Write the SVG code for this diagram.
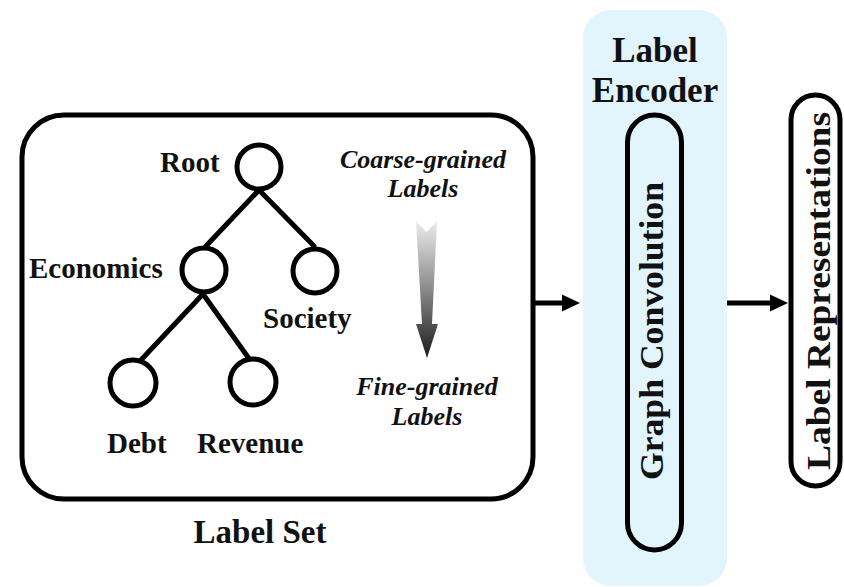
<svg xmlns="http://www.w3.org/2000/svg" width="844" height="587" viewBox="0 0 844 587">
<defs>
<linearGradient id="gArrow" x1="0" y1="0" x2="0" y2="1">
<stop offset="0" stop-color="#ececec"/>
<stop offset="0.5" stop-color="#8a8a8a"/>
<stop offset="1" stop-color="#1a1a1a"/>
</linearGradient>
</defs>
<style>
.box{fill:#fff;stroke:#000;stroke-width:5}
.node{fill:#fff;stroke:#000;stroke-width:5}
.edge{stroke:#000;stroke-width:5;stroke-linecap:round;fill:none}
.lbl{font-family:'Liberation Serif','DejaVu Serif',serif;font-weight:bold;fill:#111}
.it{font-family:'Liberation Serif','DejaVu Serif',serif;font-weight:bold;font-style:italic;fill:#111;font-size:26px}
</style>
<rect width="844" height="587" fill="#fff"/>
<g id="label-set">
<rect class="box" x="22" y="115" width="511" height="384" rx="42"/>
<text class="lbl" x="260" y="543" font-size="33" text-anchor="middle">Label Set</text>
</g>
<g id="tree-edges">
<line class="edge" x1="259" y1="190" x2="206" y2="246"/>
<line class="edge" x1="259" y1="190" x2="314" y2="246"/>
<line class="edge" x1="203" y1="294" x2="140" y2="361"/>
<line class="edge" x1="203" y1="294" x2="250" y2="360"/>
</g>
<g id="root"><circle class="node" cx="259" cy="167" r="22"/><text class="lbl" x="160" y="172" font-size="29">Root</text></g>
<g id="economics"><circle class="node" cx="204" cy="270" r="22"/><text class="lbl" x="29" y="278" font-size="29">Economics</text></g>
<g id="society"><circle class="node" cx="315" cy="271" r="22"/><text class="lbl" x="263" y="328" font-size="29">Society</text></g>
<g id="debt"><circle class="node" cx="133" cy="383" r="23"/><text class="lbl" x="107" y="453" font-size="29">Debt</text></g>
<g id="revenue"><circle class="node" cx="253" cy="382" r="23"/><text class="lbl" x="197" y="453" font-size="29">Revenue</text></g>
<g id="granularity">
<text class="it" x="423" y="168" text-anchor="middle">Coarse-grained</text>
<text class="it" x="423" y="197" text-anchor="middle">Labels</text>
<polygon points="416,221 426.5,232 437,221 432,324 438,324 427,358 416,324 422,324" fill="url(#gArrow)"/>
<text class="it" x="427" y="395" text-anchor="middle">Fine-grained</text>
<text class="it" x="427" y="425" text-anchor="middle">Labels</text>
</g>
<g id="label-encoder">
<rect x="583" y="10" width="144" height="576" rx="28" fill="#e2f4fc"/>
<text class="lbl" x="655" y="62" font-size="35" text-anchor="middle">Label</text>
<text class="lbl" x="655" y="102" font-size="35" text-anchor="middle">Encoder</text>
</g>
<g id="graph-convolution">
<rect x="627.5" y="115" width="54" height="435" rx="27" fill="none" stroke="#000" stroke-width="5"/>
<text class="lbl" transform="translate(663,331) rotate(-90)" font-size="34" text-anchor="middle" textLength="298" lengthAdjust="spacingAndGlyphs">Graph Convolution</text>
</g>
<g id="label-representations">
<rect x="791" y="95" width="49" height="391" rx="24.5" fill="#fff" stroke="#000" stroke-width="5"/>
<text class="lbl" transform="translate(830,291) rotate(-90)" font-size="34" text-anchor="middle" textLength="358" lengthAdjust="spacingAndGlyphs">Label Representations</text>
</g>
<g id="connectors">
<line x1="533" y1="303" x2="566" y2="303" stroke="#000" stroke-width="5"/>
<polygon points="562,294.5 580,303 562,311.5" fill="#000"/>
<line x1="727" y1="303" x2="772" y2="303" stroke="#000" stroke-width="5"/>
<polygon points="770,294.5 788,303 770,311.5" fill="#000"/>
</g>
</svg>
